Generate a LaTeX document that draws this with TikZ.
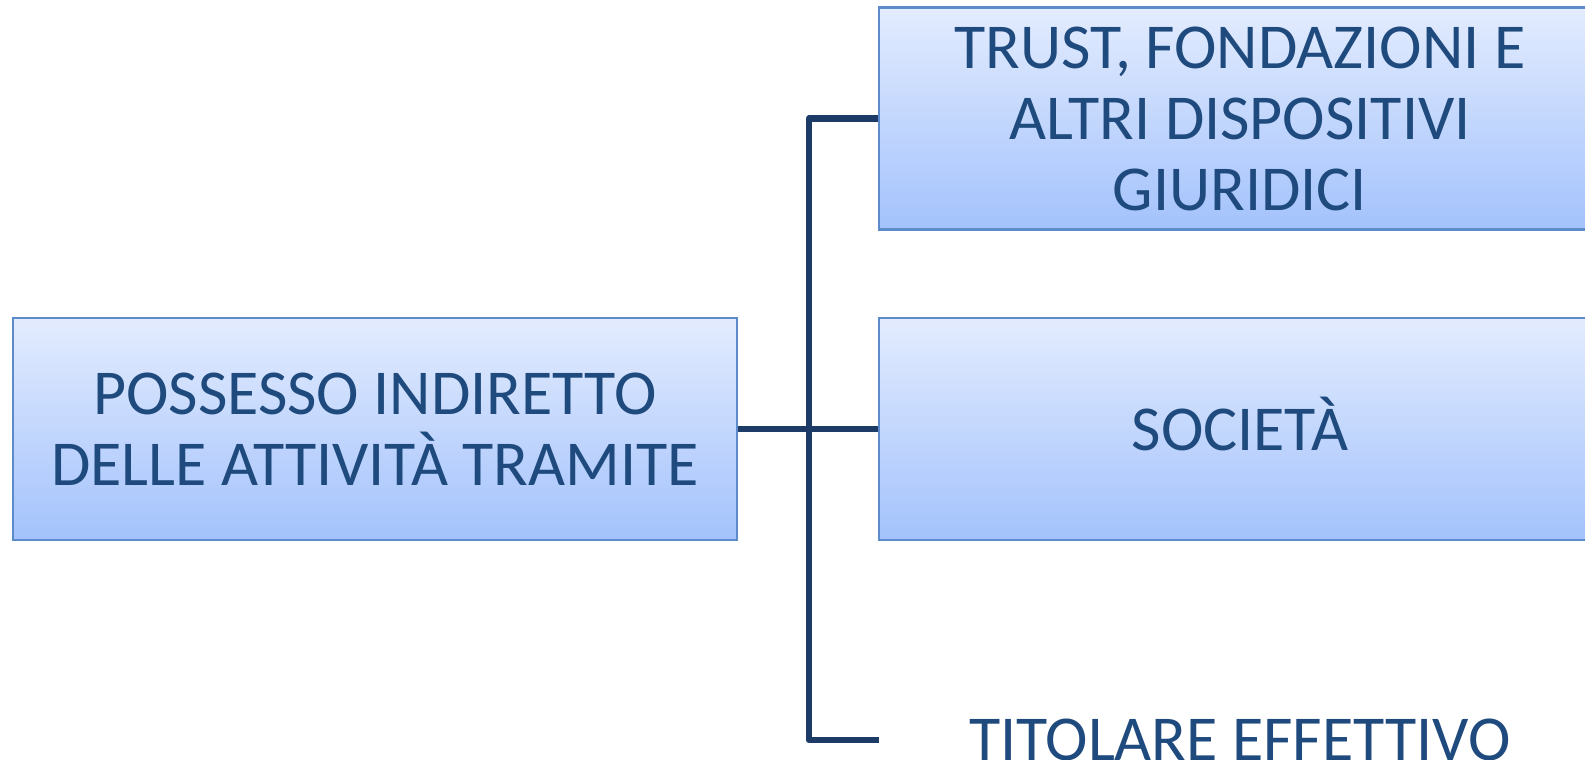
\documentclass[tikz,border=0pt]{standalone}
\usepackage{fontspec}
\setmainfont{Carlito}
\definecolor{boxtop}{HTML}{E3ECFE}
\definecolor{boxbot}{HTML}{A3C2FC}
\definecolor{boxline}{HTML}{5B8BCB}
\definecolor{textblue}{HTML}{1F4A7E}
\definecolor{linkblue}{HTML}{1C3B66}
\tikzset{
  x=1pt, y=-1pt,
  labeltext/.style={font=\fontsize{64}{71}\selectfont, text=textblue, align=center,
    inner sep=0pt, minimum width=722pt, minimum height=222pt},
  bluebox/.style={labeltext, draw=boxline, line width=2.4pt, top color=boxtop, bottom color=boxbot},
  conn/.style={draw=linkblue, line width=6.5pt, line join=round, line cap=butt}
}
\begin{document}
\begin{tikzpicture}
\useasboundingbox (0,0) rectangle (1585,760);
\node[bluebox, minimum width=724pt] (root) at (375,429) {POSSESSO INDIRETTO\\DELLE ATTIVITÀ TRAMITE};
\node[bluebox] (c1) at (1240,118.5) {TRUST, FONDAZIONI E\\ALTRI DISPOSITIVI\\GIURIDICI};
\node[bluebox, text height=42pt, text depth=0pt] (c2) at (1240,429) {SOCIETÀ};
\node[labeltext] (c3) at (1240,740) {TITOLARE EFFETTIVO};
% tree connectors
\coordinate (trunk) at (809,118.5);
\draw[conn] (root.east) -- (c2.west);
\draw[conn] (c1.west) -- (trunk) |- (c3.west);
\end{tikzpicture}
\end{document}
